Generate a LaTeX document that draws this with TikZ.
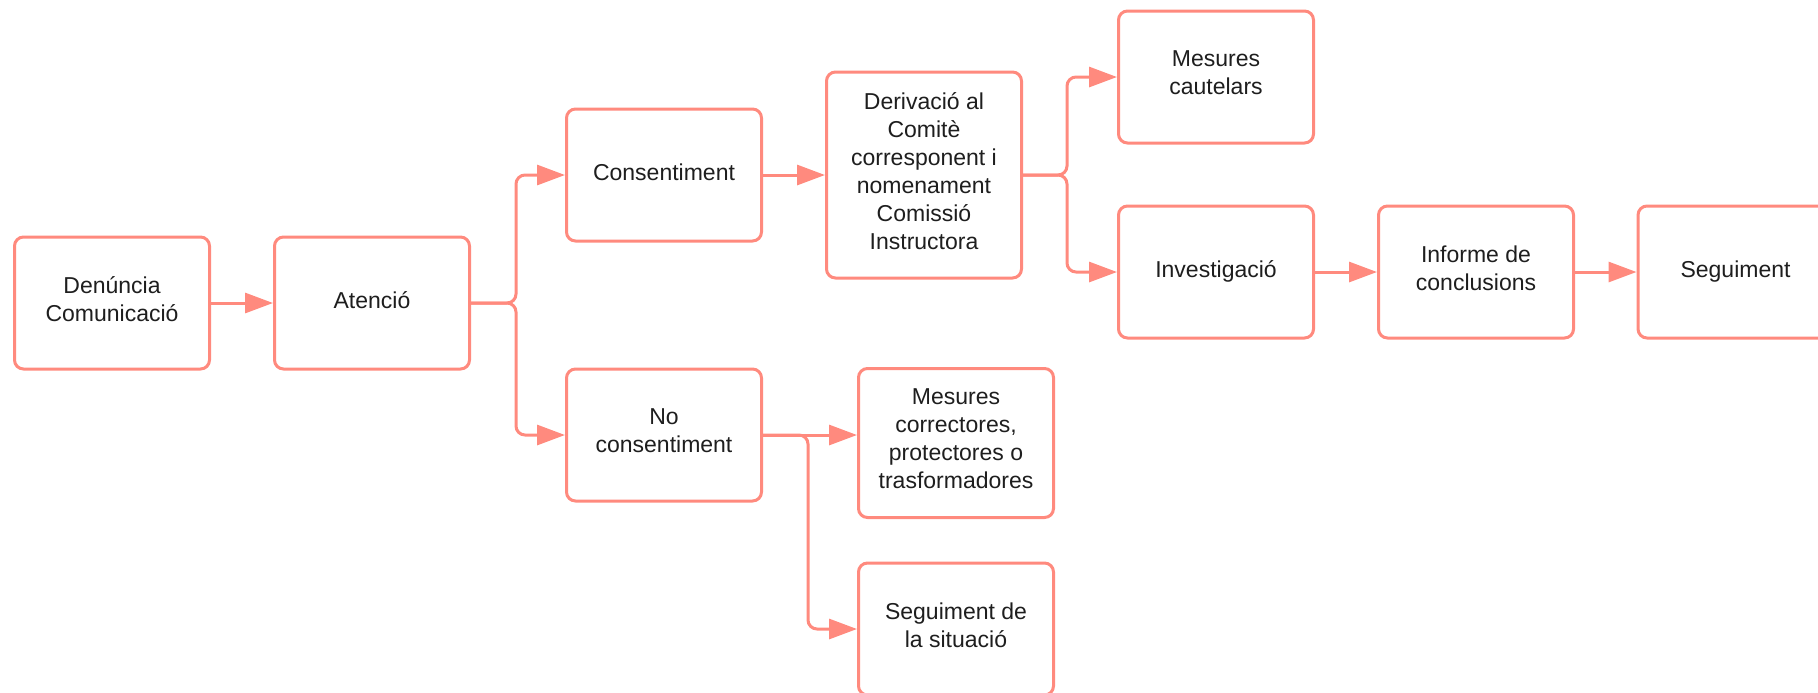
\documentclass[tikz,border=0pt]{standalone}
\usepackage{fontspec}
\setmainfont{Liberation Sans}
\usetikzlibrary{arrows.meta}
\definecolor{salm}{HTML}{FF8A7E}
\definecolor{txt}{HTML}{1E1E1E}
\tikzset{
 box/.style={draw=salm, line width=1.5pt, rounded corners=4.5pt, fill=white, align=center, inner sep=0pt, minimum width=97.5pt, minimum height=66pt, text=txt, font=\fontsize{11.5pt}{14pt}\selectfont, execute at begin node={\strut}, execute at end node={\strut}},
 conn/.style={draw=salm, line width=1.5pt, -{Triangle[length=14pt,width=10pt]}},
 bconn/.style={conn, rounded corners=4.5pt}
}
\begin{document}
\begin{tikzpicture}[x=0.5pt,y=-0.5pt]
\useasboundingbox (0,0) rectangle (1818,692);
\clip (0,0) rectangle (1818,692);
\node[box] (den) at (112,303) {Denúncia\\Comunicació};
\node[box] (ate) at (372,303) {Atenció};
\node[box] (con) at (664,175) {Consentiment};
\node[box] (nocon) at (664,435) {No\\consentiment};
\node[box, minimum height=103pt] (der) at (924,175) {Derivació al\\Comitè\\corresponent i\\nomenament\\Comissió\\Instructora};
\node[box] (mcaut) at (1216,77) {Mesures\\cautelars};
\node[box] (inv) at (1216,272) {Investigació};
\node[box] (inf) at (1476,272) {Informe de\\conclusions};
\node[box] (seg) at (1735.5,272) {Seguiment};
\node[box, minimum height=74.5pt] (mcorr) at (956,443) {Mesures\\correctores,\\protectores o\\trasformadores};
\node[box] (segsit) at (956,629) {Seguiment de\\la situació};
\coordinate (b1) at (516,303);
\coordinate (b2) at (1067,175);
\coordinate (b3) at (808,435);
\draw[conn] (den) -- (ate);
\draw[bconn] (ate.east) -- (b1) |- (con.west);
\draw[bconn] (ate.east) -- (b1) |- (nocon.west);
\draw[conn] (con) -- (der);
\draw[bconn] (der.east) -- (b2) |- (mcaut.west);
\draw[bconn] (der.east) -- (b2) |- (inv.west);
\draw[conn] (inv) -- (inf);
\draw[conn] (inf) -- (seg);
\draw[conn] (nocon.east) -- (mcorr.west |- nocon.east);
\draw[bconn] (nocon.east) -- (b3) |- (segsit.west);
\end{tikzpicture}
\end{document}
